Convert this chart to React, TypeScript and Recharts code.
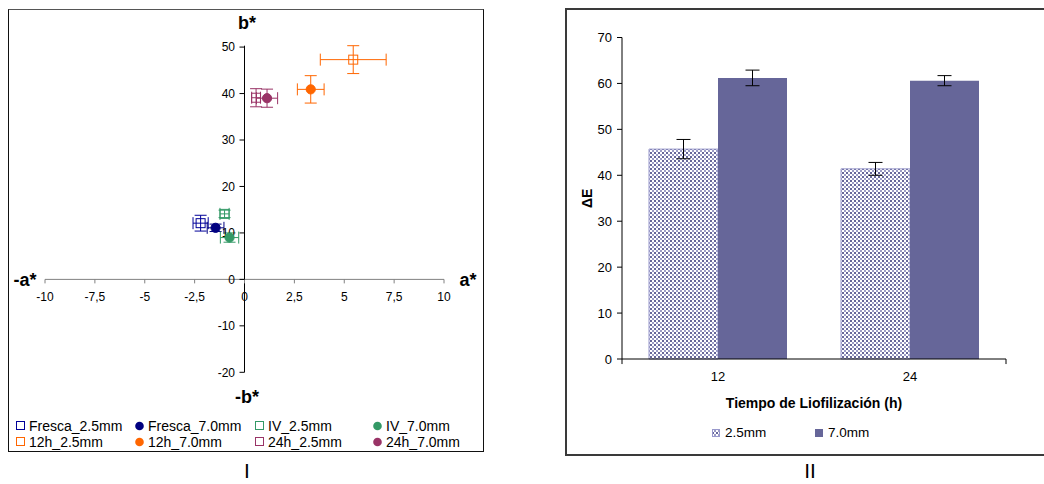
import React from 'react';
import {
  ScatterChart,
  Scatter,
  XAxis,
  YAxis,
  ErrorBar,
  ReferenceLine,
  ReferenceDot,
  BarChart,
  Bar,
} from 'recharts';

// ---------- Panel I data (CIELab a*, b*) ----------
const seriesNames = [
  'Fresca_2.5mm',
  'Fresca_7.0mm',
  'IV_2.5mm',
  'IV_7.0mm',
  '12h_2.5mm',
  '12h_7.0mm',
  '24h_2.5mm',
  '24h_7.0mm',
];
const aValues = [-2.2, -1.45, -1.0, -0.75, 5.45, 3.32, 0.58, 1.13];
const bValues = [12.1, 11.1, 14.1, 9.0, 47.3, 40.9, 39.1, 39.0];
const aErrors = [0.38, 0.42, 0.23, 0.46, 1.65, 0.67, 0.22, 0.53];
const bErrors = [1.7, 0.8, 0.8, 1.0, 3.0, 2.95, 1.95, 1.95];
const aTicks = [-10, -7.5, -5, -2.5, 0, 2.5, 5, 7.5, 10];
const bTicks = [-20, -10, 0, 10, 20, 30, 40, 50];

// ---------- Panel II data (ΔE) ----------
const timeCategories = ['12', '24'];
const de25 = [45.7, 41.4];
const de70 = [61.2, 60.6];
const de25Err = [2.1, 1.4];
const de70Err = [1.7, 1.1];
const deTicks = [0, 10, 20, 30, 40, 50, 60, 70];
const barSeriesNames = ['2.5mm', '7.0mm'];

// ---------- styles ----------
const seriesColors = ['#000099', '#000080', '#339966', '#339966', '#FF6600', '#FF6600', '#993366', '#993366'];
const seriesFilled = [false, true, false, true, false, true, false, true];
const FONT = '"Liberation Sans", Arial, Helvetica, sans-serif';

const fmt = (t: number) => String(t).replace('.', ',');

const scatterSeries = seriesNames.map((name, i) => ({
  name,
  color: seriesColors[i],
  filled: seriesFilled[i],
  data: [{ a: aValues[i], b: bValues[i], ea: aErrors[i], eb: bErrors[i] }],
}));

const barData = timeCategories.map((t, i) => ({
  t,
  v25: de25[i],
  v70: de70[i],
  e25: de25Err[i],
  e70: de70Err[i],
}));

const makeShape = (color: string, filled: boolean) => (p: any) => {
  const { cx, cy } = p;
  if (cx == null || cy == null) return <g />;
  if (filled) return <circle cx={cx} cy={cy} r={4.6} fill={color} stroke={color} />;
  return <rect x={cx - 4.5} y={cy - 4.5} width={9} height={9} fill="none" stroke={color} strokeWidth={1} />;
};

const LabChart = () => (
  <ScatterChart width={490} height={460} margin={{ top: 45.7, right: 46, bottom: 87.7, left: 45 }}>
    <XAxis type="number" dataKey="a" domain={[-10, 10]} ticks={aTicks} hide />
    <YAxis type="number" dataKey="b" domain={[-20, 50]} ticks={bTicks} hide />
    <ReferenceLine y={0} stroke="#808080" strokeWidth={1} />
    <ReferenceLine x={0} stroke="#000" strokeWidth={1} />
    {aTicks.map((t) => (
      <ReferenceDot
        key={'xt' + t}
        x={t}
        y={0}
        r={0}
        ifOverflow="visible"
        shape={(p: any) => (
          <g>
            <line x1={p.cx} y1={p.cy} x2={p.cx} y2={p.cy + 4} stroke="#808080" />
            <text x={p.cx} y={p.cy + 22} textAnchor="middle" fontSize={12} fill="#000" fontFamily={FONT}>
              {fmt(t)}
            </text>
          </g>
        )}
      />
    ))}
    {bTicks.map((t) => (
      <ReferenceDot
        key={'yt' + t}
        x={0}
        y={t}
        r={0}
        ifOverflow="visible"
        shape={(p: any) => (
          <g>
            <line x1={p.cx - 5} y1={p.cy} x2={p.cx} y2={p.cy} stroke="#000" />
            <text x={p.cx - 9.5} y={p.cy + 4.3} textAnchor="end" fontSize={12} fill="#000" fontFamily={FONT}>
              {fmt(t)}
            </text>
          </g>
        )}
      />
    ))}
    {scatterSeries.map((s) => (
      <Scatter key={s.name} name={s.name} data={s.data} isAnimationActive={false} shape={makeShape(s.color, s.filled)}>
        <ErrorBar dataKey="ea" direction="x" width={6} stroke={s.color} strokeWidth={1} />
        <ErrorBar dataKey="eb" direction="y" width={6} stroke={s.color} strokeWidth={1} />
      </Scatter>
    ))}
  </ScatterChart>
);

const DeltaChart = () => (
  <BarChart
    width={478}
    height={484}
    data={barData}
    margin={{ top: 37.5, right: 38, bottom: 65, left: 16 }}
    barCategoryGap={27}
    barGap={0}
  >
    <XAxis
      dataKey="t"
      axisLine={{ stroke: '#000' }}
      tickLine={false}
      tickSize={0}
      tickMargin={13}
      tick={{ fontSize: 13, fill: '#000' }}
      height={60}
      label={{
        content: (p: any) => {
          const vb = p.viewBox || {};
          return (
            <text
              x={vb.x + vb.width / 2}
              y={vb.y + 49}
              textAnchor="middle"
              fontSize={14}
              fontWeight="bold"
              fill="#000"
              fontFamily={FONT}
            >
              Tiempo de Liofilización (h)
            </text>
          );
        },
      }}
    />
    <XAxis xAxisId="n" type="number" domain={[0, 2]} hide />
    <YAxis
      domain={[0, 70]}
      ticks={deTicks}
      interval={0}
      width={40}
      axisLine={{ stroke: '#000' }}
      tickLine={{ stroke: '#000' }}
      tickSize={5}
      tickMargin={5}
      tick={{ fontSize: 13, fill: '#000' }}
      label={{
        content: (p: any) => {
          const vb = p.viewBox || {};
          const x = vb.x + 5;
          const y = vb.y + vb.height / 2;
          return (
            <text
              x={x}
              y={y}
              transform={`rotate(-90 ${x} ${y})`}
              textAnchor="middle"
              dominantBaseline="central"
              fontSize={14}
              fontWeight="bold"
              fill="#000"
              fontFamily={FONT}
            >
              ΔE
            </text>
          );
        },
      }}
    />
    <Bar dataKey="v25" name={barSeriesNames[0]} fill="url(#dotsPattern)" stroke="#9999cc" strokeWidth={1} isAnimationActive={false}>
      <ErrorBar dataKey="e25" width={7} stroke="#000" strokeWidth={1} />
    </Bar>
    <Bar dataKey="v70" name={barSeriesNames[1]} fill="#666699" isAnimationActive={false}>
      <ErrorBar dataKey="e70" width={7} stroke="#000" strokeWidth={1} />
    </Bar>
    {[0, 1, 2].map((x) => (
      <ReferenceLine
        key={'ct' + x}
        xAxisId="n"
        segment={[
          { x, y: 0 },
          { x, y: -1.1 },
        ]}
        stroke="#000"
        ifOverflow="visible"
      />
    ))}
  </BarChart>
);

const legendCols = [16, 135, 255, 373];
const legendRows = [417, 433];

export default function App() {
  return (
    <div
      style={{
        position: 'absolute',
        left: 0,
        top: 0,
        width: 1044,
        height: 484,
        overflow: 'hidden',
        background: '#fff',
        fontFamily: FONT,
      }}
    >
      <svg width={0} height={0} style={{ position: 'absolute' }}>
        <defs>
          <pattern id="dotsPattern" width={4} height={4} patternUnits="userSpaceOnUse">
            <rect x={0} y={0} width={4} height={4} fill="#ffffff" />
            <rect x={0} y={0} width={2} height={2} fill="#666699" />
            <rect x={2} y={2} width={2} height={2} fill="#9a9ac4" />
          </pattern>
        </defs>
      </svg>

      {/* panel frames */}
      <div
        style={{
          position: 'absolute',
          left: 8,
          top: 9,
          width: 476,
          height: 443,
          boxSizing: 'border-box',
          border: '1px solid #111',
          borderTopColor: '#555',
        }}
      />
      <div
        style={{
          position: 'absolute',
          left: 565,
          top: 8,
          width: 500,
          height: 448,
          boxSizing: 'border-box',
          border: '2px solid #3a3a3a',
        }}
      />

      <div style={{ position: 'absolute', left: 0, top: 0 }}>
        <LabChart />
      </div>
      <div style={{ position: 'absolute', left: 566, top: 0 }}>
        <DeltaChart />
      </div>

      {/* panel I legend */}
      {scatterSeries.map((s, i) => {
        const x = legendCols[i % 4];
        const y = legendRows[Math.floor(i / 4)];
        return (
          <div
            key={'lg' + s.name}
            style={{ position: 'absolute', left: x, top: y, height: 18, display: 'flex', alignItems: 'center' }}
          >
            <svg width={12} height={12} style={{ marginRight: 1 }}>
              {s.filled ? (
                <circle cx={4.5} cy={6} r={4.3} fill={s.color} />
              ) : (
                <rect x={0.5} y={1.5} width={8} height={8} fill="none" stroke={s.color} />
              )}
            </svg>
            <span style={{ fontSize: 14, color: '#000', whiteSpace: 'nowrap', lineHeight: '18px' }}>{s.name}</span>
          </div>
        );
      })}

      {/* panel II legend */}
      {barSeriesNames.map((n, i) => (
        <div
          key={'bl' + n}
          style={{
            position: 'absolute',
            left: i === 0 ? 712 : 815,
            top: 424,
            height: 18,
            display: 'flex',
            alignItems: 'center',
          }}
        >
          <svg width={10} height={10} style={{ marginRight: 3 }}>
            <rect
              x={0.5}
              y={1.5}
              width={7}
              height={7}
              fill={i === 0 ? 'url(#dotsPattern)' : '#666699'}
              stroke={i === 0 ? '#9999cc' : '#666699'}
            />
          </svg>
          <span style={{ fontSize: 13.5, color: '#000', lineHeight: '18px' }}>{n}</span>
        </div>
      ))}

      {/* free titles */}
      <svg width={1044} height={484} style={{ position: 'absolute', left: 0, top: 0, pointerEvents: 'none' }}>
        <g fontFamily={FONT} fill="#000">
          <text x={247} y={23} textAnchor="middle" dominantBaseline="central" fontSize={18} fontWeight="bold">
            b*
          </text>
          <text x={247} y={397} textAnchor="middle" dominantBaseline="central" fontSize={18} fontWeight="bold">
            -b*
          </text>
          <text x={25} y={280} textAnchor="middle" dominantBaseline="central" fontSize={18} fontWeight="bold">
            -a*
          </text>
          <text x={468} y={280} textAnchor="middle" dominantBaseline="central" fontSize={18} fontWeight="bold">
            a*
          </text>
          <text x={247} y={478} textAnchor="middle" fontSize={21}>
            I
          </text>
          <text x={810} y={478} textAnchor="middle" fontSize={21}>
            II
          </text>
        </g>
      </svg>
    </div>
  );
}
